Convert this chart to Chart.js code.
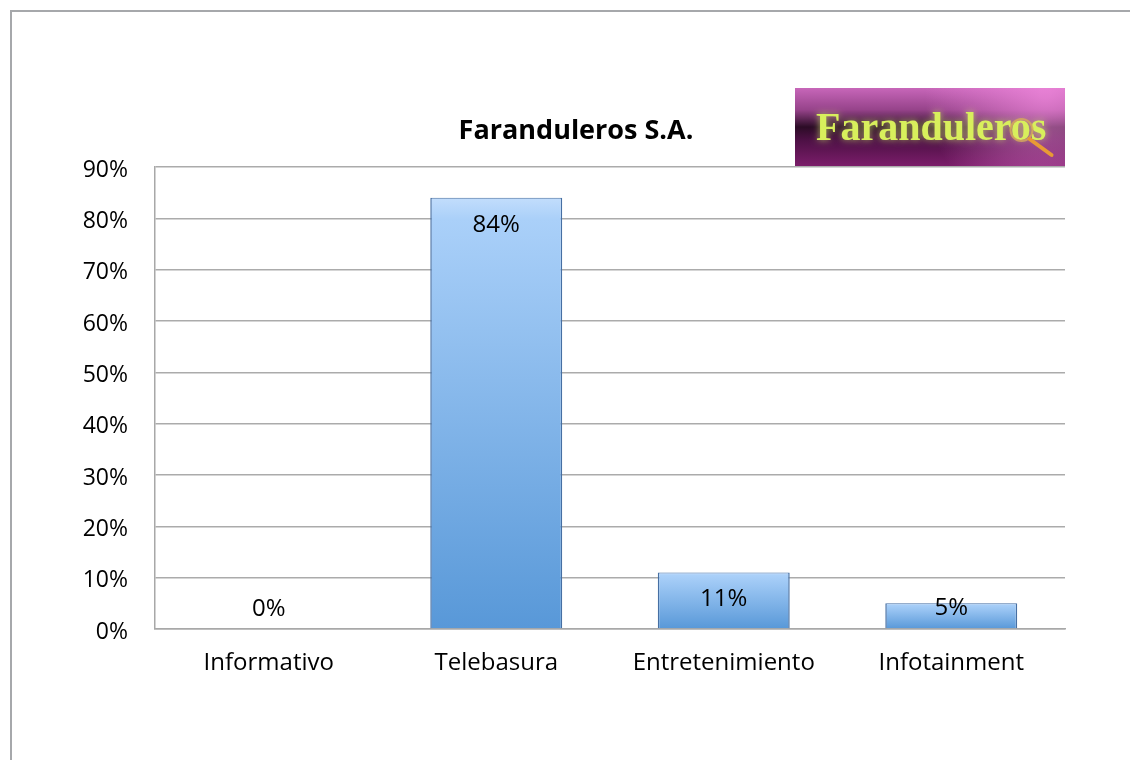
<!DOCTYPE html>
<html>
<head>
<meta charset="utf-8">
<script src="https://cdn.jsdelivr.net/npm/chart.js@4.4.1/dist/chart.umd.min.js"></script>
<style>
  html, body { margin: 0; padding: 0; background: #ffffff; }
  #wrap { width: 1130px; height: 760px; position: relative; }
</style>
</head>
<body>
<div id="wrap"><canvas id="c" width="1130" height="760"></canvas></div>
<script>
// ---- Data ----
const categories = ['Informativo', 'Telebasura', 'Entretenimiento', 'Infotainment'];
const values = [0, 84, 11, 5];
const chartTitle = 'Faranduleros S.A.';
const logoText = 'Faranduleros';
const yMin = 0;
const yMax = 90;
const yStep = 10;

const FONT = '"Open Sans", "DejaVu Sans", sans-serif';

const framePlugin = {
  id: 'frame',
  beforeDraw(chart) {
    const ctx = chart.ctx;
    ctx.save();
    ctx.strokeStyle = '#a6a8ab';
    ctx.lineWidth = 2;
    ctx.beginPath();
    ctx.moveTo(11, 760);
    ctx.lineTo(11, 11);
    ctx.lineTo(1130, 11);
    ctx.stroke();
    // title
    ctx.fillStyle = '#000000';
    ctx.font = 'bold 27px ' + FONT;
    ctx.textAlign = 'center';
    ctx.textBaseline = 'middle';
    ctx.fillText(chartTitle, 576, 131);
    ctx.restore();
  }
};

const logoPlugin = {
  id: 'logo',
  afterDraw(chart) {
    const ctx = chart.ctx;
    const x = 795, y = 88, w = 270, h = 78;
    ctx.save();
    const g = ctx.createLinearGradient(0, y, 0, y + h);
    g.addColorStop(0, '#c766b9');
    g.addColorStop(0.28, '#96438a');
    g.addColorStop(0.5, '#2c0c26');
    g.addColorStop(0.66, '#4c1044');
    g.addColorStop(1, '#7b1d6a');
    ctx.fillStyle = g;
    ctx.fillRect(x, y, w, h);
    const rg = ctx.createRadialGradient(x + w - 20, y + 5, 5, x + w - 20, y + 5, 120);
    rg.addColorStop(0, 'rgba(245,140,225,0.7)');
    rg.addColorStop(1, 'rgba(245,140,225,0)');
    ctx.fillStyle = rg;
    ctx.fillRect(x, y, w, h);
    // text
    ctx.font = 'bold 40px "Liberation Serif", "DejaVu Serif", serif';
    ctx.textAlign = 'left';
    ctx.textBaseline = 'alphabetic';
    const full = ctx.measureText(logoText).width;
    const sc = Math.min(1, 240 / full);
    const ox = 816 + ctx.measureText(logoText.slice(0, -2)).width * sc;
    const ow = ctx.measureText('o').width * sc;
    ctx.shadowColor = 'rgba(220,255,110,0.7)';
    ctx.shadowBlur = 7;
    ctx.fillStyle = '#d8ef5c';
    ctx.fillText(logoText, 816, 140, 240);
    ctx.shadowBlur = 0;
    // magnifier ring + handle
    const cx = ox + ow / 2, cy = 130;
    ctx.strokeStyle = 'rgba(215,170,90,0.8)';
    ctx.lineWidth = 2;
    ctx.beginPath();
    ctx.arc(cx, cy, 11, 0, Math.PI * 2);
    ctx.stroke();
    ctx.strokeStyle = '#e89a35';
    ctx.lineWidth = 4;
    ctx.lineCap = 'round';
    ctx.beginPath();
    ctx.moveTo(cx + 8, cy + 9);
    ctx.lineTo(cx + 30, cy + 25);
    ctx.stroke();
    ctx.restore();
  }
};

const labelPlugin = {
  id: 'barLabels',
  afterDatasetsDraw(chart) {
    const ctx = chart.ctx;
    const meta = chart.getDatasetMeta(0);
    ctx.save();
    ctx.fillStyle = '#000000';
    ctx.font = '24px ' + FONT;
    ctx.textAlign = 'center';
    ctx.textBaseline = 'middle';
    meta.data.forEach((el, i) => {
      const yPos = Math.min(el.y + 27, el.base - 20);
      ctx.fillText(values[i] + '%', el.x, yPos);
    });
    ctx.restore();
  }
};

new Chart(document.getElementById('c'), {
  type: 'bar',
  data: {
    labels: categories,
    datasets: [{
      data: values,
      backgroundColor: (c) => {
        const chart = c.chart;
        if (!chart.chartArea || !chart.scales.y) return '#8ab8ea';
        const ys = chart.scales.y;
        const top = ys.getPixelForValue(c.raw);
        const bottom = ys.getPixelForValue(0);
        if (!isFinite(top) || bottom - top < 1) return '#8ab8ea';
        const g = chart.ctx.createLinearGradient(0, top, 0, bottom);
        g.addColorStop(0, '#c2ddfc');
        g.addColorStop(0.05, '#aad0f9');
        g.addColorStop(1, '#5898d8');
        return g;
      },
      borderColor: '#466fa3',
      borderWidth: (c) => c.raw === 0 ? 0 : { top: 1, left: 1.5, right: 1.5, bottom: 0 },
      borderSkipped: false,
      barPercentage: 0.58,
      categoryPercentage: 1.0
    }]
  },
  options: {
    responsive: false,
    devicePixelRatio: 1,
    animation: false,
    layout: { padding: { left: 0, right: 65, top: 167, bottom: 0 } },
    plugins: {
      legend: { display: false },
      title: { display: false },
      tooltip: { enabled: false }
    },
    scales: {
      x: {
        grid: { display: false, drawTicks: false },
        border: { display: true, color: '#a8a8a8', width: 1.5 },
        ticks: { color: '#000000', font: { family: FONT, size: 24 }, padding: 20 },
        afterFit(scale) { scale.height = 131; }
      },
      y: {
        min: yMin,
        max: yMax,
        grid: { color: '#ababab', lineWidth: 1.5, drawTicks: false },
        border: { display: true, color: '#a8a8a8', width: 1.5 },
        ticks: {
          stepSize: yStep,
          color: '#000000',
          font: { family: FONT, size: 23 },
          padding: 27,
          labelOffset: 3,
          callback: (v) => v + '%'
        },
        afterFit(scale) { scale.width = 155; }
      }
    }
  },
  plugins: [framePlugin, logoPlugin, labelPlugin]
});
</script>
</body>
</html>
